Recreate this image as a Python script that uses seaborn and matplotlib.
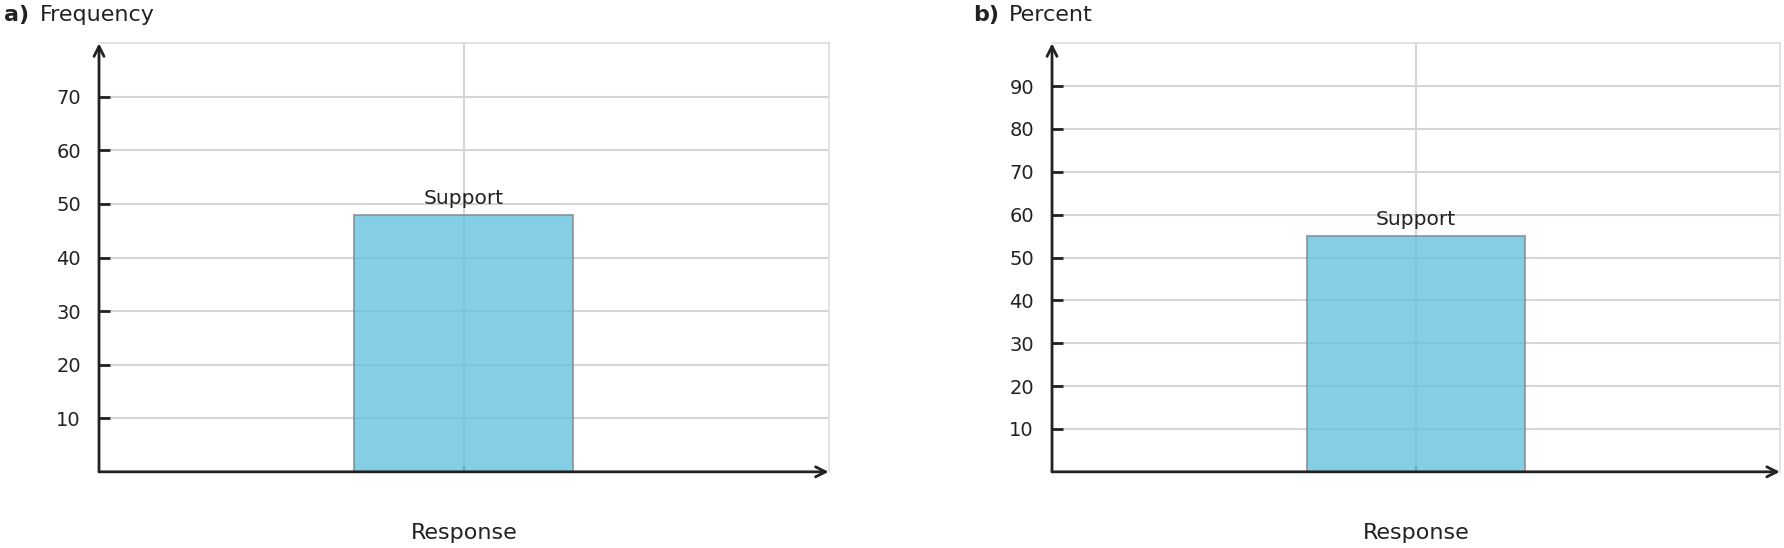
import matplotlib
matplotlib.use("Agg")
import pandas as pd
import matplotlib.pyplot as plt
import seaborn as sns

# dados
categorias = ["Support"]
frequencia = [48]
percentual = [55]

sns.set_style("white")
plt.rcParams["font.family"] = ["DejaVu Sans"]

cor_texto = "#222222"
cor_barra = "#5bc0de"

df_freq = pd.DataFrame({"resposta": categorias, "valor": frequencia})
df_pct = pd.DataFrame({"resposta": categorias, "valor": percentual})

fig = plt.figure(figsize=(17.84, 5.48), dpi=100)
ax1 = fig.add_axes([0.0555, 0.139, 0.409, 0.782])
ax2 = fig.add_axes([0.5897, 0.139, 0.408, 0.782])

paineis = [
    (ax1, df_freq, 80, "a)", "Frequency", 4, 40),
    (ax2, df_pct, 100, "b)", "Percent", 973, 1009),
]

for ax, df, ymax, letra, titulo, x_letra, x_titulo in paineis:
    sns.barplot(data=df, x="resposta", y="valor", color=cor_barra, alpha=0.75,
                saturation=1, width=0.3, edgecolor="#888888", linewidth=1.5,
                ax=ax, zorder=2)
    ax.bar_label(ax.containers[0], labels=categorias, padding=5,
                 fontsize=14.5, color=cor_texto)

    ax.set_xlim(-0.5, 0.5)
    ax.set_ylim(0, ymax)
    ax.set_yticks(range(10, ymax, 10))
    ax.set_axisbelow(True)
    ax.grid(True, color="#d6d6d6", linewidth=1.5)

    for lado in ["left", "bottom"]:
        ax.spines[lado].set_visible(False)
    for lado in ["top", "right"]:
        ax.spines[lado].set_color("#dddddd")
        ax.spines[lado].set_linewidth(1.2)

    ## eixos com setas
    ax.annotate("", xy=(0, 1), xytext=(0, 0), xycoords="axes fraction",
                arrowprops=dict(arrowstyle="->", lw=2, color=cor_texto,
                                mutation_scale=18, shrinkA=0, shrinkB=0),
                annotation_clip=False, zorder=5)
    ax.annotate("", xy=(1, 0), xytext=(0, 0), xycoords="axes fraction",
                arrowprops=dict(arrowstyle="->", lw=2, color=cor_texto,
                                mutation_scale=18, shrinkA=0, shrinkB=0),
                annotation_clip=False, zorder=5)

    ax.tick_params(axis="y", direction="in", length=8, width=2, color=cor_texto,
                   labelsize=14, labelcolor=cor_texto, pad=13, left=True)
    ax.tick_params(axis="x", direction="in", length=4, width=1.5, color="#3a8fb0",
                   labelbottom=False, bottom=True)

    ax.set_ylabel("")
    ax.set_xlabel("Response", fontsize=16, color=cor_texto, va="center")
    ax.xaxis.set_label_coords(0.5, -0.1425)

    fig.text(x_letra / 1784, 1 - 15 / 548, letra, fontsize=16, weight="bold",
             color=cor_texto, va="center")
    fig.text(x_titulo / 1784, 1 - 15 / 548, titulo, fontsize=16,
             color=cor_texto, va="center")

fig.savefig("out.png", dpi=100)
